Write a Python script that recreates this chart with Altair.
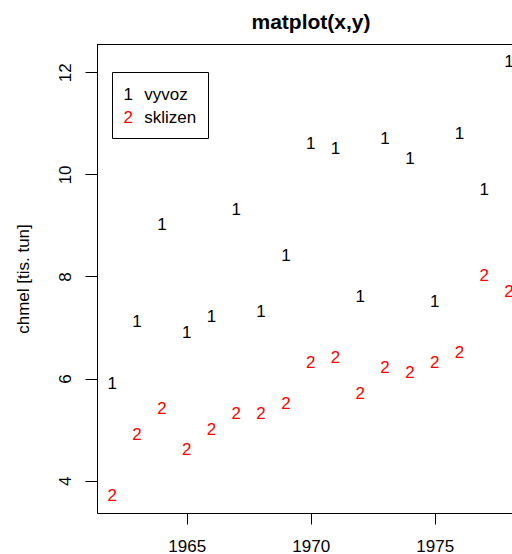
import altair as alt
import pandas as pd

years = list(range(1962, 1979))
vyvoz = [5.9, 7.1, 9.0, 6.9, 7.2, 9.3, 7.3, 8.4, 10.6, 10.5, 7.6, 10.7, 10.3, 7.5, 10.8, 9.7, 12.2]
sklizen = [3.7, 4.9, 5.4, 4.6, 5.0, 5.3, 5.3, 5.5, 6.3, 6.4, 5.7, 6.2, 6.1, 6.3, 6.5, 8.0, 7.7]
series_names = ["vyvoz", "sklizen"]
series_symbols = ["1", "2"]
series_colors = ["#000000", "#FF0000"]
x_ticks = [1965, 1970, 1975]
y_ticks = [4, 6, 8, 10, 12]

rows = []
for name, sym, vals in zip(series_names, series_symbols, [vyvoz, sklizen]):
    for yr, v in zip(years, vals):
        rows.append({"year": yr, "value": v, "series": name, "sym": sym})
df = pd.DataFrame(rows)
one = pd.DataFrame({"k": [0]})

FONT = "Liberation Sans"
W, H = 415, 469

xscale = alt.Scale(domain=[1961.383, 1978.117], nice=False, zero=False)
yscale = alt.Scale(domain=[3.367, 12.554], nice=False, zero=False)

points = alt.Chart(df).mark_text(font=FONT, fontSize=17, baseline="middle", align="center").encode(
    x=alt.X("year:Q", scale=xscale,
            axis=alt.Axis(values=x_ticks, format="d", title=None, grid=False,
                          tickSize=11, labelPadding=27, labelBaseline="alphabetic",
                          labelFontSize=17, labelFont=FONT, labelColor="black",
                          tickColor="black", domainColor="black", labelFlush=False)),
    y=alt.Y("value:Q", scale=yscale,
            axis=alt.Axis(values=y_ticks, title="chmel [tis. tun]", grid=False,
                          tickSize=12, labelPadding=15, labelAngle=270,
                          labelAlign="center", labelBaseline="alphabetic",
                          labelFontSize=17, labelFont=FONT, labelColor="black",
                          tickColor="black", domainColor="black", labelFlush=False,
                          titleFont=FONT, titleFontSize=17, titleFontWeight="normal",
                          titleColor="black", titleAngle=270, titleAlign="center",
                          titleBaseline="alphabetic", titleX=-69, titleY=234.5)),
    text="sym:N",
    color=alt.Color("series:N", scale=alt.Scale(domain=series_names, range=series_colors), legend=None),
)

top_rule = alt.Chart(one).mark_rule(color="black", strokeWidth=1).encode(
    x=alt.value(0), x2=alt.value(W), y=alt.value(0.5)
)

legend_box = alt.Chart(one).mark_rect(fill="white", stroke="black", strokeWidth=1).encode(
    x=alt.value(15.5), x2=alt.value(111.5), y=alt.value(28.5), y2=alt.value(94.5)
)

leg_sym1 = alt.Chart(one).mark_text(text="1", font=FONT, fontSize=17, color="black", align="center", baseline="alphabetic").encode(
    x=alt.value(31.3), y=alt.value(56))
leg_sym2 = alt.Chart(one).mark_text(text="2", font=FONT, fontSize=17, color="#FF0000", align="center", baseline="alphabetic").encode(
    x=alt.value(31.3), y=alt.value(79.3))
leg_lab1 = alt.Chart(one).mark_text(text="vyvoz", font=FONT, fontSize=17, color="black", align="left", baseline="alphabetic").encode(
    x=alt.value(47.3), y=alt.value(56))
leg_lab2 = alt.Chart(one).mark_text(text="sklizen", font=FONT, fontSize=17, color="black", align="left", baseline="alphabetic").encode(
    x=alt.value(47.3), y=alt.value(79.3))

title_txt = alt.Chart(one).mark_text(text="matplot(x,y)", font=FONT, fontSize=21, fontWeight="bold", color="black",
                                     align="center", baseline="alphabetic").encode(
    x=alt.value(214), y=alt.value(-14.7))

chart = alt.layer(points, top_rule, legend_box, leg_sym1, leg_sym2, leg_lab1, leg_lab2, title_txt).properties(
    width=W, height=H,
    autosize=alt.AutoSizeParams(type="none"),
    padding={"left": 97, "top": 44, "right": 0, "bottom": 41},
    background="white",
).configure_view(stroke=None)

chart.save("out.html", embed_options={"renderer": "svg", "actions": False})
